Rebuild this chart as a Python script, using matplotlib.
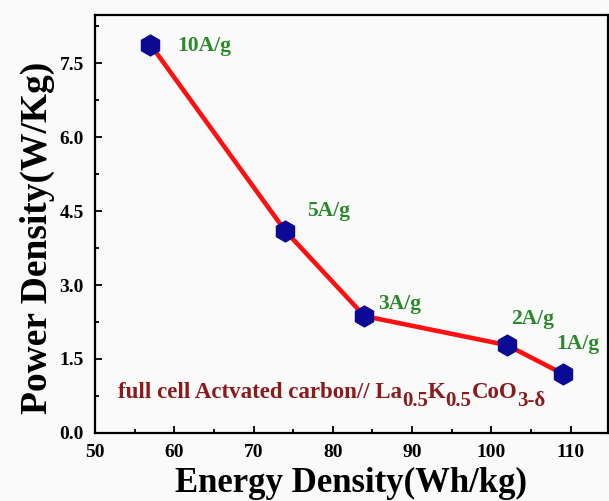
import matplotlib.pyplot as plt
from matplotlib.transforms import IdentityTransform

plt.rcParams['font.family'] = ['Liberation Serif', 'DejaVu Serif']
plt.rcParams['font.weight'] = 'bold'

# energy / power density at each current density
energy = [57, 74, 84, 102, 109]
power = [7.88, 4.1, 2.37, 1.78, 1.2]
rates = ["10A/g", "5A/g", "3A/g", "2A/g", "1A/g"]
# label offsets in points from each point
offsets = [(19, -1), (16, 14), (10, 8.5), (3, 18.5), (-4.5, 21.5)]

# cell label, split into normal and subscript runs
cell_parts = [("full cell Actvated carbon// La", False), ("0.5", True), ("K", False),
              ("0.5", True), ("CoO", False), ("3-\u03b4", True)]

fig = plt.figure(figsize=(6.09, 5.01), dpi=100, facecolor='#fafafa')
ax = fig.add_axes([0.156, 0.136, 0.842, 0.834])
ax.set_facecolor('#fafafa')

ax.plot(energy, power, color='#ff1010', lw=3.3, zorder=2)
ax.plot(energy, power, ls='none', marker='h', ms=15, color='#0a0a94', zorder=3)

for x, y, lab, (dx, dy) in zip(energy, power, rates, offsets):
    ax.annotate(lab, (x, y), xytext=(dx, dy), textcoords='offset points',
                ha='left', va='center', color='#2a8a2a', fontsize=15.5, fontweight='bold')

ax.set_xlim(50, 114.7)
ax.set_ylim(0, 8.48)
ax.set_xticks(range(50, 111, 10))
ax.set_xticks(range(55, 111, 10), minor=True)
ax.set_yticks([0, 1.5, 3.0, 4.5, 6.0, 7.5])
ax.set_yticks([0.75, 2.25, 3.75, 5.25, 6.75, 8.25], minor=True)
ax.set_yticklabels(['0.0', '1.5', '3.0', '4.5', '6.0', '7.5'])

ax.tick_params(which='both', direction='in', labelsize=14, width=1.3)
ax.tick_params(axis='x', pad=8)
ax.tick_params(axis='y', pad=8)
ax.tick_params(which='major', length=5)
ax.tick_params(which='minor', length=3)
for s in ax.spines.values():
    s.set_linewidth(1.6)

ax.set_xlabel("Energy Density(Wh/kg)", fontsize=25, fontweight='bold', labelpad=4.5)
ax.set_ylabel("Power Density(W/Kg)", fontsize=27, fontweight='bold', labelpad=3, y=0.467)

# write the cell label run by run so the subscripts keep a large size
renderer = fig.canvas.get_renderer()
px, py = ax.transData.transform((52.9, 0.71))
for txt, sub in cell_parts:
    t = ax.text(px, py - (8 if sub else 0), txt, transform=IdentityTransform(),
                fontsize=15 if sub else 16.5, fontweight='bold', color='#8b1a1a',
                va='baseline', ha='left')
    px = t.get_window_extent(renderer).x1

fig.savefig('out.png', dpi=100, facecolor=fig.get_facecolor())
